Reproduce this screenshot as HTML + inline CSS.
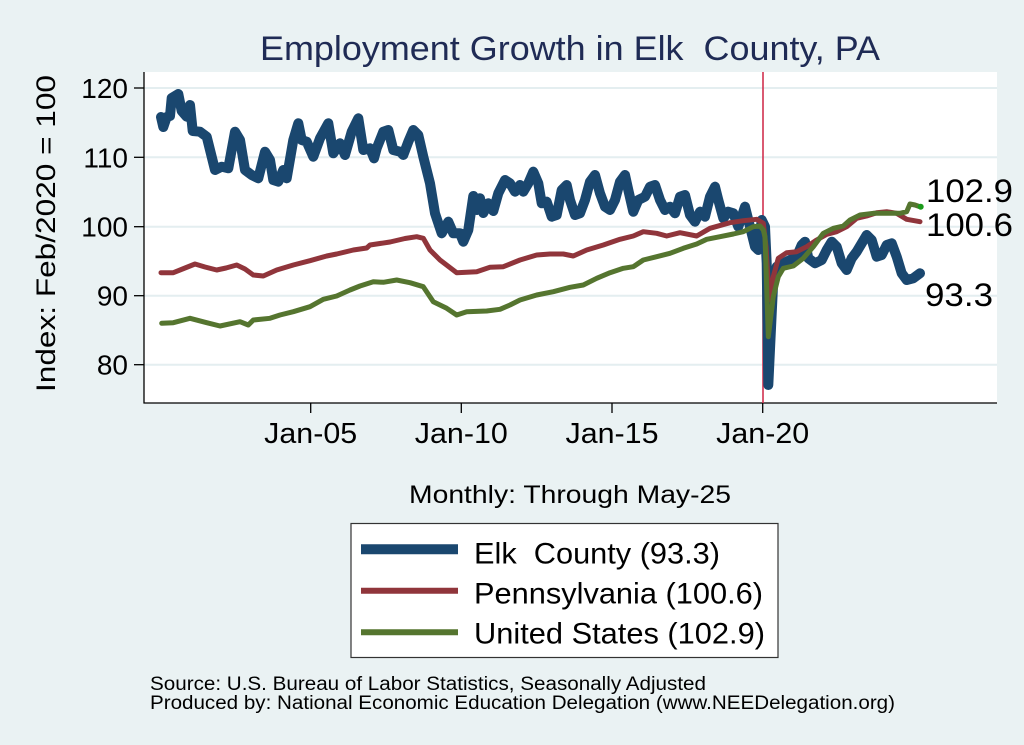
<!DOCTYPE html>
<html>
<head>
<meta charset="utf-8">
<style>
  html,body{margin:0;padding:0;background:#eaf2f3;}
  svg{display:block;}
  text{font-family:"Liberation Sans",Arial,sans-serif;}
</style>
</head>
<body>
<svg width="1024" height="745" viewBox="0 0 1024 745" xmlns="http://www.w3.org/2000/svg">
  <rect x="0" y="0" width="1024" height="745" fill="#eaf2f3"/>
  <!-- plot region -->
  <rect x="144" y="72" width="853" height="331" fill="#ffffff"/>
  <!-- gridlines -->
  <g stroke="#e4eef0" stroke-width="2">
    <line x1="144" y1="88" x2="997" y2="88"/>
    <line x1="144" y1="157.3" x2="997" y2="157.3"/>
    <line x1="144" y1="226.7" x2="997" y2="226.7"/>
    <line x1="144" y1="295.7" x2="997" y2="295.7"/>
    <line x1="144" y1="364.7" x2="997" y2="364.7"/>
  </g>
  <!-- axes -->
  <g stroke="#000" stroke-width="1.3">
    <line x1="144" y1="72" x2="144" y2="403.5"/>
    <line x1="143.5" y1="403" x2="997" y2="403"/>
    <line x1="134" y1="88" x2="144" y2="88"/>
    <line x1="134" y1="157.3" x2="144" y2="157.3"/>
    <line x1="134" y1="226.7" x2="144" y2="226.7"/>
    <line x1="134" y1="295.7" x2="144" y2="295.7"/>
    <line x1="134" y1="364.7" x2="144" y2="364.7"/>
    <line x1="310.7" y1="403" x2="310.7" y2="413"/>
    <line x1="461.3" y1="403" x2="461.3" y2="413"/>
    <line x1="612" y1="403" x2="612" y2="413"/>
    <line x1="762.7" y1="403" x2="762.7" y2="413"/>
  </g>
  <!-- y tick labels -->
  <g font-size="28" fill="#000" text-anchor="end">
    <text x="128" y="98">120</text>
    <text x="128" y="167.3">110</text>
    <text x="128" y="236.7">100</text>
    <text x="128" y="305.7">90</text>
    <text x="128" y="374.7">80</text>
  </g>
  <!-- x tick labels -->
  <g font-size="29" fill="#000" text-anchor="middle">
    <text x="310.7" y="443" textLength="93" lengthAdjust="spacingAndGlyphs">Jan-05</text>
    <text x="461.3" y="443" textLength="93" lengthAdjust="spacingAndGlyphs">Jan-10</text>
    <text x="612" y="443" textLength="93" lengthAdjust="spacingAndGlyphs">Jan-15</text>
    <text x="762.7" y="443" textLength="93" lengthAdjust="spacingAndGlyphs">Jan-20</text>
  </g>
  <!-- y axis title -->
  <text transform="translate(55,233.5) rotate(-90)" font-size="27" text-anchor="middle" fill="#000" textLength="317" lengthAdjust="spacingAndGlyphs">Index: Feb/2020 = 100</text>
  <!-- title -->
  <text x="260" y="60" font-size="34" fill="#1f2b55" textLength="620" lengthAdjust="spacingAndGlyphs" xml:space="preserve">Employment Growth in Elk  County, PA</text>
  <!-- reference line -->
  <line x1="763" y1="72" x2="763" y2="403" stroke="#d0314f" stroke-width="1.6"/>
  <!-- Elk County -->
  <polyline fill="none" stroke="#1a476f" stroke-width="10" stroke-linejoin="round" stroke-linecap="round" points="161,117 163.3,127 166.7,117 170,116 171.7,98 178.3,94 181.7,111 186.7,116.7 190,105 192.7,131 200,131.7 206.7,136.7 215,170 221.7,166.7 228.3,168.3 235,131.7 240,140 245,170 251.7,175 258.3,178.3 265,151.7 270,160 273.3,180 278.3,181.7 283.3,170 286.7,178.3 293.3,140 298.3,123.3 301.7,140 306.7,141.7 313.3,156.7 320,138.3 328.3,123.3 333.3,153.3 340,143.3 345,155 351.7,131.7 358.3,118.3 363.3,150 370,148.3 374,158.3 376.7,148.3 383.3,131.7 388.3,130 393.3,150 400,151.7 403.3,155 408.3,141.7 413.3,130 418.3,135 423.3,156.7 430,183.3 435,213.3 441.7,233.3 448.3,221.7 453.3,233.3 460,233.3 463.3,241.7 468.3,230 473.3,196 476.7,210 480,198.3 483.3,213 488.3,203.3 493.3,211 498.3,193.3 505,180 510,183.3 515,191.7 520,185 523.3,191.7 528.3,183.3 533.3,171.7 538.3,183.3 541.7,203.3 546.7,201.7 551.7,216.7 556.7,215 561.7,190 566.7,185 570,200 575,215 580,213.3 585,200 590,181.7 595,175 600,193.3 605,206.7 610,210 615,200 620,181.7 625,175 628.3,190 633.3,211.7 638.3,200 645,196.7 650,186.7 655,185 660,200 665,210 670,206.7 675,213.3 680,196.7 685,195 690,215 695,221.7 700,211.7 705,216.7 710,196.7 715,186.7 718.3,200 723.3,218.3 728.3,211.7 733.3,213.3 738.3,226.7 741.7,216.7 745,206.7 750,226.7 755,246.7 758.3,250 761.7,220 765,226.7 766.7,263.3 768.3,385 771.7,313.3 773.3,280 776.7,266.7 783.3,263.3 790,260 796.7,256.7 801.7,245 805,241.7 808.3,258.3 815,263.3 821.7,260 826.7,250 831.7,241.7 836.7,246.7 841.7,263.3 846.7,270 851.7,258.3 856.7,251.7 861.7,243.3 866.7,235 871.7,240 876.7,256.7 881.7,255 886.7,245 891.7,243.3 896.7,256.7 901.7,273.3 906.7,280 913.3,278.3 920,273.3"/>
  <!-- Pennsylvania -->
  <polyline fill="none" stroke="#90353b" stroke-width="5" stroke-linejoin="round" stroke-linecap="round" points="161,272.7 173.3,272.7 185,268 195,264 205,267 216.7,270 226,268 236.7,265 245,269 253.3,275 263.3,276 276.7,270 293.3,265 310,260.7 326.7,256 336.7,254 353.3,250 366.7,248 370,245 390,242 405,238.5 416.7,236.7 423.3,238.3 430,250 440,260 456.7,272.7 476.7,271.7 490,267.3 503.3,266.7 520,260 536.7,255 550,254 563.3,254 573.3,256 586.7,250 603.3,245 620,239.3 633.3,236 643.3,231.7 656.7,233.3 666.7,236 680,232.7 696.7,236 710,228.3 730,222.7 743.3,220.7 756.7,219.3 763.3,223.3 766,246.7 769.3,300 773.3,276.7 778.3,258.3 786.7,252.7 796.7,251.7 806.7,246.7 816.7,240 826.7,234.3 836.7,231.7 846.7,226.7 856.7,218.3 866.7,216 876.7,212.7 886.7,211.7 896.7,213.3 906.7,219.3 920,221.7"/>
  <!-- United States -->
  <polyline fill="none" stroke="#55752f" stroke-width="5" stroke-linejoin="round" stroke-linecap="round" points="161.7,323.3 173.3,322.7 190,318.3 206.7,322.7 220,326 240,321.7 248.3,325 253.3,320 270,318.3 280,315 293.3,311.7 310,306.7 323.3,299.3 336.7,296 350,290 360,286 373.3,281.7 383.3,282.3 396.7,280 410,282.7 423.3,286.7 433.3,301.7 446.7,308.3 456.7,315 466.7,311.7 486.7,311 500,309.3 510,305 520,300 536.7,295 553.3,291.7 570,287.3 583.3,285 596.7,278.3 610,272.7 623.3,268.3 633.3,266.7 643.3,260 656.7,256.7 670,253.3 683.3,248.3 696.7,244 706.7,239.3 720,236.7 733.3,234 743.3,231.7 753.3,226.7 760,226 763.3,230 765,236.7 768.3,336.7 773.3,296.7 778.3,276.7 783.3,268.3 793.3,266 803.3,258.3 813.3,246.7 823.3,233.3 833.3,228.3 843.3,226 850,220 860,215 873.3,213.3 886.7,213.3 900,213.3 906.7,211.7 910,204 915,205 920,206.7"/>
  <circle cx="920.7" cy="206.7" r="3" fill="#1a9a1a"/>
  <!-- end labels -->
  <g font-size="32" fill="#000">
    <text x="926" y="202" textLength="87" lengthAdjust="spacingAndGlyphs">102.9</text>
    <text x="926" y="236" textLength="87" lengthAdjust="spacingAndGlyphs">100.6</text>
    <text x="925" y="306" textLength="68" lengthAdjust="spacingAndGlyphs">93.3</text>
  </g>
  <!-- x axis title -->
  <text x="409" y="503" font-size="25" fill="#000" textLength="322" lengthAdjust="spacingAndGlyphs">Monthly: Through May-25</text>
  <!-- legend -->
  <rect x="351" y="523.5" width="427" height="134" fill="#ffffff" stroke="#333" stroke-width="1.2"/>
  <line x1="361" y1="549.3" x2="458" y2="549.3" stroke="#1a476f" stroke-width="10"/>
  <line x1="361" y1="590.7" x2="458" y2="590.7" stroke="#90353b" stroke-width="6"/>
  <line x1="361" y1="632.3" x2="458" y2="632.3" stroke="#55752f" stroke-width="6"/>
  <g font-size="30" fill="#000">
    <text x="474" y="563.3" textLength="246" lengthAdjust="spacingAndGlyphs" xml:space="preserve">Elk  County (93.3)</text>
    <text x="474" y="603.3" textLength="289" lengthAdjust="spacingAndGlyphs">Pennsylvania (100.6)</text>
    <text x="474" y="643.3" textLength="291" lengthAdjust="spacingAndGlyphs">United States (102.9)</text>
  </g>
  <!-- notes -->
  <g font-size="19" fill="#000">
    <text x="150" y="690" textLength="556" lengthAdjust="spacingAndGlyphs">Source: U.S. Bureau of Labor Statistics, Seasonally Adjusted</text>
    <text x="150" y="709" textLength="745" lengthAdjust="spacingAndGlyphs">Produced by: National Economic Education Delegation (www.NEEDelegation.org)</text>
  </g>
</svg>
</body>
</html>
